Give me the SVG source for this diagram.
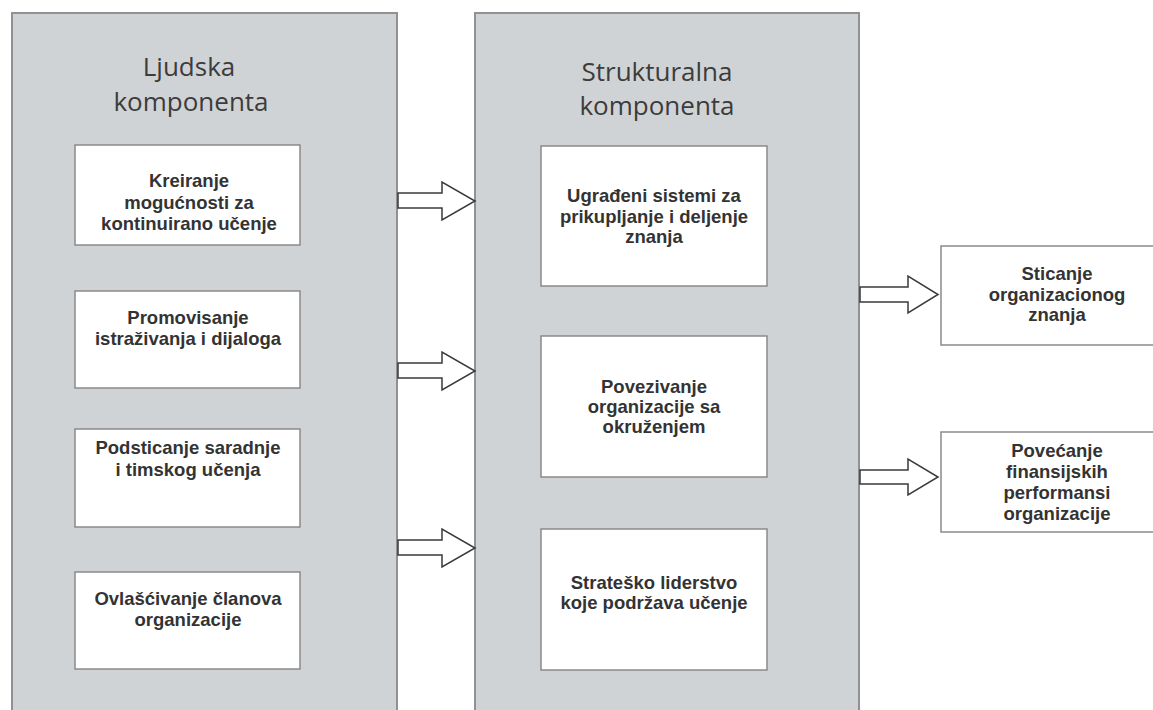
<svg xmlns="http://www.w3.org/2000/svg" width="1153" height="710" viewBox="0 0 1153 710">
  <defs>
    <style>
      .panel { fill: #d0d3d6; stroke: #8f9193; stroke-width: 2; }
      .card { fill: #ffffff; stroke: #8a8a8a; stroke-width: 1.5; }
      .title { font-family: "Open Sans", "Liberation Sans", sans-serif; font-size: 26px; fill: #3c3c3c; text-anchor: middle; }
      .label { font-family: "Liberation Sans", Arial, sans-serif; font-size: 18.5px; font-weight: bold; fill: #333333; text-anchor: middle; }
      .arrow { fill: #ffffff; stroke: #3a3a3a; stroke-width: 1.5; stroke-linejoin: miter; }
    </style>
  </defs>

  <rect width="1153" height="710" fill="#ffffff"/>

  <!-- Human component panel -->
  <g id="ljudska">
    <rect class="panel" x="12" y="13" width="385" height="710"/>
    <text class="title" x="189" y="76">Ljudska</text>
    <text class="title" x="191" y="111">komponenta</text>
  </g>

  <g id="kreiranje">
    <rect class="card" x="75" y="145" width="225" height="100"/>
    <text class="label" x="189" y="187">Kreiranje</text>
    <text class="label" x="189" y="208.5">mogućnosti za</text>
    <text class="label" x="189" y="230">kontinuirano učenje</text>
  </g>

  <g id="promovisanje">
    <rect class="card" x="75" y="291" width="225" height="97"/>
    <text class="label" x="188" y="324">Promovisanje</text>
    <text class="label" x="188" y="345">istraživanja i dijaloga</text>
  </g>

  <g id="podsticanje">
    <rect class="card" x="75" y="429" width="225" height="98"/>
    <text class="label" x="188" y="454">Podsticanje saradnje</text>
    <text class="label" x="188" y="476">i timskog učenja</text>
  </g>

  <g id="ovlascivanje">
    <rect class="card" x="75" y="572" width="225" height="97"/>
    <text class="label" x="188" y="605">Ovlašćivanje članova</text>
    <text class="label" x="188" y="626">organizacije</text>
  </g>

  <!-- Structural component panel -->
  <g id="strukturalna">
    <rect class="panel" x="475" y="13" width="384" height="710"/>
    <text class="title" x="657" y="81">Strukturalna</text>
    <text class="title" x="657" y="115">komponenta</text>
  </g>

  <g id="ugradjeni">
    <rect class="card" x="541" y="146" width="226" height="140"/>
    <text class="label" x="654" y="202">Ugrađeni sistemi za</text>
    <text class="label" x="654" y="222.5">prikupljanje i deljenje</text>
    <text class="label" x="654" y="243">znanja</text>
  </g>

  <g id="povezivanje">
    <rect class="card" x="541" y="336" width="226" height="141"/>
    <text class="label" x="654" y="393">Povezivanje</text>
    <text class="label" x="654" y="413">organizacije sa</text>
    <text class="label" x="654" y="433">okruženjem</text>
  </g>

  <g id="stratesko">
    <rect class="card" x="541" y="529" width="226" height="141"/>
    <text class="label" x="654" y="589">Strateško liderstvo</text>
    <text class="label" x="654" y="609">koje podržava učenje</text>
  </g>

  <!-- Outcomes -->
  <g id="sticanje">
    <rect class="card" x="941" y="246" width="234" height="99"/>
    <text class="label" x="1057" y="280">Sticanje</text>
    <text class="label" x="1057" y="300.5">organizacionog</text>
    <text class="label" x="1057" y="321">znanja</text>
  </g>

  <g id="povecanje">
    <rect class="card" x="941" y="432" width="234" height="100"/>
    <text class="label" x="1057" y="457">Povećanje</text>
    <text class="label" x="1057" y="478">finansijskih</text>
    <text class="label" x="1057" y="499">performansi</text>
    <text class="label" x="1057" y="520">organizacije</text>
  </g>

  <!-- Block arrows -->
  <g id="connectors">
    <polygon class="arrow" points="398,193 442,193 442,182 475,201 442,220 442,208 398,208"/>
    <polygon class="arrow" points="398,363 442,363 442,352 475,371 442,390 442,378 398,378"/>
    <polygon class="arrow" points="398,540 442,540 442,529 475,548 442,567 442,555 398,555"/>
    <polygon class="arrow" points="860,287 908,287 908,276 938,294.5 908,313 908,302 860,302"/>
    <polygon class="arrow" points="860,470 908,470 908,459 938,477 908,495 908,484 860,484"/>
  </g>
</svg>
